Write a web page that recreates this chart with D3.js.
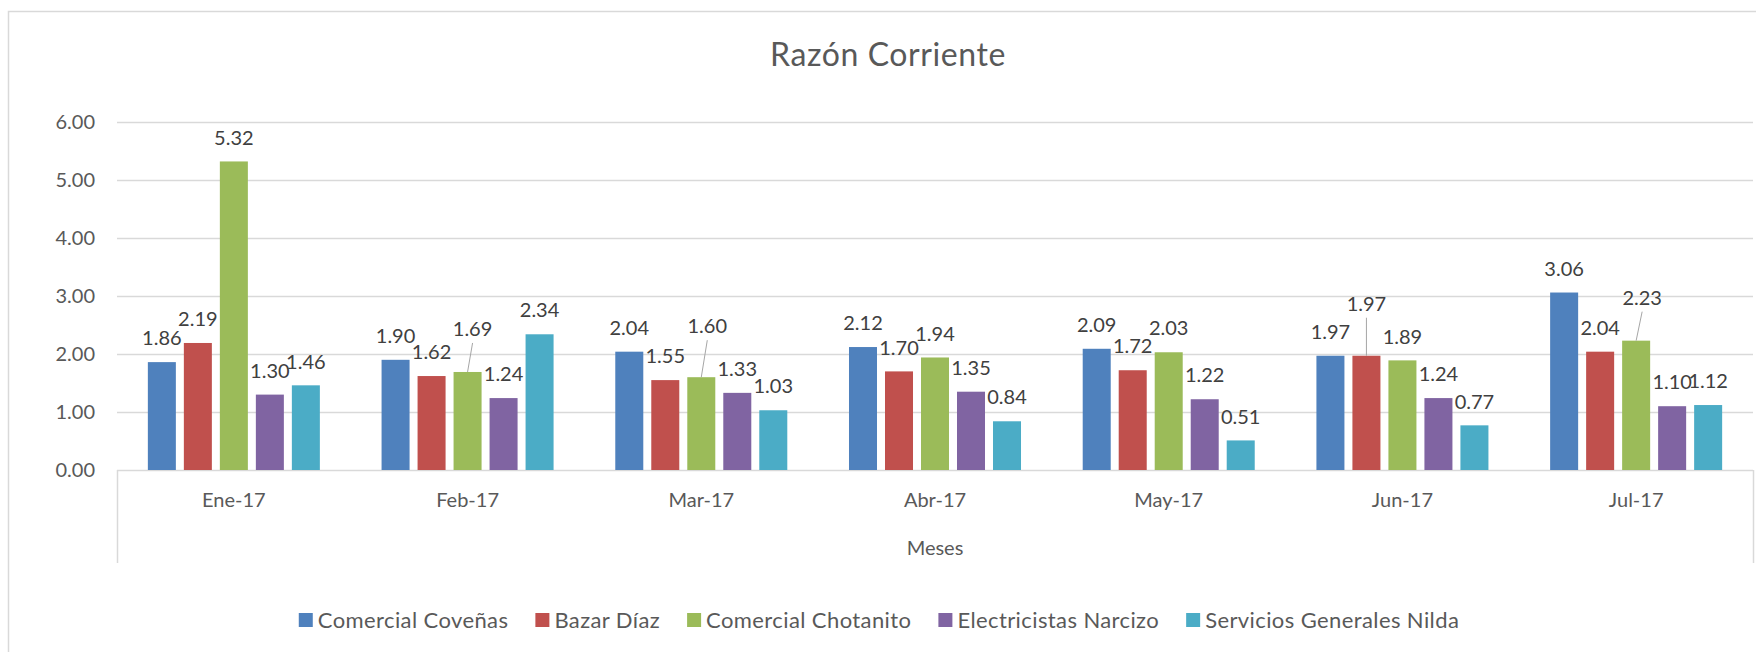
<!DOCTYPE html>
<html>
<head>
<meta charset="utf-8">
<script src="https://cdn.jsdelivr.net/npm/d3@7"></script>
<style>
  body { margin: 0; background: #fff; }
  text { font-family: Lato, "Open Sans", sans-serif; }
</style>
</head>
<body>
<div id="chart"></div>
<script>
// data
var meses = ["Ene-17", "Feb-17", "Mar-17", "Abr-17", "May-17", "Jun-17", "Jul-17"];
var empresas = ["Comercial Coveñas", "Bazar Díaz", "Comercial Chotanito", "Electricistas Narcizo", "Servicios Generales Nilda"];
var coveñas   = [1.86, 1.90, 2.04, 2.12, 2.09, 1.97, 3.06];
var bazarDiaz = [2.19, 1.62, 1.55, 1.70, 1.72, 1.97, 2.04];
var chotanito = [5.32, 1.69, 1.60, 1.94, 2.03, 1.89, 2.23];
var narcizo   = [1.30, 1.24, 1.33, 1.35, 1.22, 1.24, 1.10];
var nilda     = [1.46, 2.34, 1.03, 0.84, 0.51, 0.77, 1.12];
var yTicks = [0, 1, 2, 3, 4, 5, 6];
var colores = ["#4F81BD", "#C0504D", "#9BBB59", "#8064A2", "#4BACC6"];

// labels that were dragged by hand in the original (with leader line)
var labelNudge = [
    {serie: 2, mes: 1, dx: 5, dy: -19},
    {serie: 2, mes: 2, dx: 6, dy: -27},
    {serie: 1, mes: 5, dx: 0, dy: -28},
    {serie: 2, mes: 6, dx: 6, dy: -19}
];

var series = [coveñas, bazarDiaz, chotanito, narcizo, nilda];

(function() {
var W = 1756, H = 652;
var plotL = 117, plotR = 1753, plotT = 122, plotB = 470;

var svg = d3.select("#chart").append("svg")
    .attr("width", W)
    .attr("height", H);

// chart border
svg.append("rect")
    .attr("x", 8.5).attr("y", 11.5)
    .attr("width", W + 20).attr("height", H + 20)
    .attr("fill", "none")
    .attr("stroke", "#d9d9d9")
    .attr("stroke-width", 1.5);

var y = d3.scaleLinear().domain([0, 6]).range([plotB, plotT]);

var x0 = d3.scaleBand()
    .domain(meses)
    .range([plotL, plotR])
    .paddingInner(0.264)
    .paddingOuter(0.132);

var x1 = d3.scaleBand()
    .domain(d3.range(empresas.length))
    .range([0, x0.bandwidth()])
    .paddingInner(0.222)
    .paddingOuter(0);

// gridlines
svg.append("g").selectAll("line")
    .data(yTicks)
    .enter().append("line")
    .attr("x1", plotL).attr("x2", plotR)
    .attr("y1", function(d) { return Math.round(y(d)) + 0.5; })
    .attr("y2", function(d) { return Math.round(y(d)) + 0.5; })
    .attr("stroke", "#d9d9d9")
    .attr("stroke-width", 1.5);

// y axis labels
var yAxis = d3.axisLeft(y)
    .tickValues(yTicks)
    .tickFormat(d3.format(".2f"))
    .tickSize(0)
    .tickPadding(22);
var gy = svg.append("g")
    .attr("transform", "translate(" + plotL + ",0)")
    .call(yAxis);
gy.select(".domain").remove();
gy.selectAll("text")
    .attr("fill", "#595959")
    .style("font-size", "20px")
    .style("font-family", "Lato, sans-serif");

// category axis box
svg.append("g").selectAll("line")
    .data([plotL, plotR])
    .enter().append("line")
    .attr("x1", function(d) { return d + 0.5; })
    .attr("x2", function(d) { return d + 0.5; })
    .attr("y1", plotB).attr("y2", 563)
    .attr("stroke", "#d9d9d9")
    .attr("stroke-width", 1.5);

var xAxis = d3.axisBottom(x0).tickSize(0).tickPadding(23);
var gx = svg.append("g")
    .attr("transform", "translate(0," + plotB + ")")
    .call(xAxis);
gx.select(".domain").remove();
gx.selectAll("text")
    .attr("fill", "#595959")
    .style("font-size", "20px")
    .style("font-family", "Lato, sans-serif");

// bars
var groups = svg.append("g").selectAll("g")
    .data(meses)
    .enter().append("g")
    .attr("transform", function(d) { return "translate(" + x0(d) + ",0)"; });

groups.selectAll("rect")
    .data(function(d, i) {
        return series.map(function(s, k) { return {serie: k, mes: i, value: s[i]}; });
    })
    .enter().append("rect")
    .attr("x", function(d) { return x1(d.serie); })
    .attr("y", function(d) { return y(d.value); })
    .attr("width", x1.bandwidth())
    .attr("height", function(d) { return y(0) - y(d.value); })
    .attr("fill", function(d) { return colores[d.serie]; });

// data labels
var labelData = [];
series.forEach(function(s, k) {
    s.forEach(function(v, i) {
        var n = labelNudge.find(function(o) { return o.serie == k && o.mes == i; });
        labelData.push({serie: k, mes: i, value: v, dx: n ? n.dx : 0, dy: n ? n.dy : 0, moved: !!n});
    });
});
function barCenter(d) { return x0(meses[d.mes]) + x1(d.serie) + x1.bandwidth() / 2; }

svg.append("g").selectAll("line")
    .data(labelData.filter(function(d) { return d.moved; }))
    .enter().append("line")
    .attr("x1", function(d) { return barCenter(d) + d.dx; })
    .attr("y1", function(d) { return y(d.value) - 24 + d.dy + 14; })
    .attr("x2", function(d) { return barCenter(d); })
    .attr("y2", function(d) { return y(d.value); })
    .attr("stroke", "#a6a6a6")
    .attr("stroke-width", 1);

svg.append("g").selectAll("text")
    .data(labelData)
    .enter().append("text")
    .attr("x", function(d) { return barCenter(d) + d.dx; })
    .attr("y", function(d) { return y(d.value) - 24 + d.dy; })
    .attr("dy", "0.36em")
    .attr("text-anchor", "middle")
    .attr("fill", "#404040")
    .style("font-size", "20px")
    .text(function(d) { return d3.format(".2f")(d.value); });

// axis title
svg.append("text")
    .attr("x", (plotL + plotR) / 2)
    .attr("y", 548)
    .attr("dy", "0.36em")
    .attr("text-anchor", "middle")
    .attr("fill", "#595959")
    .style("font-size", "20px")
    .text("Meses");

// title
svg.append("text")
    .attr("x", 888)
    .attr("y", 66)
    .attr("text-anchor", "middle")
    .attr("fill", "#595959")
    .style("font-size", "32px")
    .style("letter-spacing", "0.6px")
    .text("Razón Corriente");

// legend
var legend = svg.append("g");
var lx = 0;
empresas.forEach(function(name, k) {
    var item = legend.append("g").attr("transform", "translate(" + lx + ",0)");
    item.append("rect")
        .attr("x", 0).attr("y", 613)
        .attr("width", 14).attr("height", 14)
        .attr("fill", colores[k]);
    var t = item.append("text")
        .attr("x", 19).attr("y", 620)
        .attr("dy", "0.36em")
        .attr("fill", "#595959")
        .style("font-size", "22px")
        .style("letter-spacing", "0.4px")
        .text(name);
    lx += 19 + t.node().getComputedTextLength() + 27;
});
var legendW = lx - 27;
legend.attr("transform", "translate(" + (879 - legendW / 2) + ",0)");
})();
</script>
</body>
</html>
